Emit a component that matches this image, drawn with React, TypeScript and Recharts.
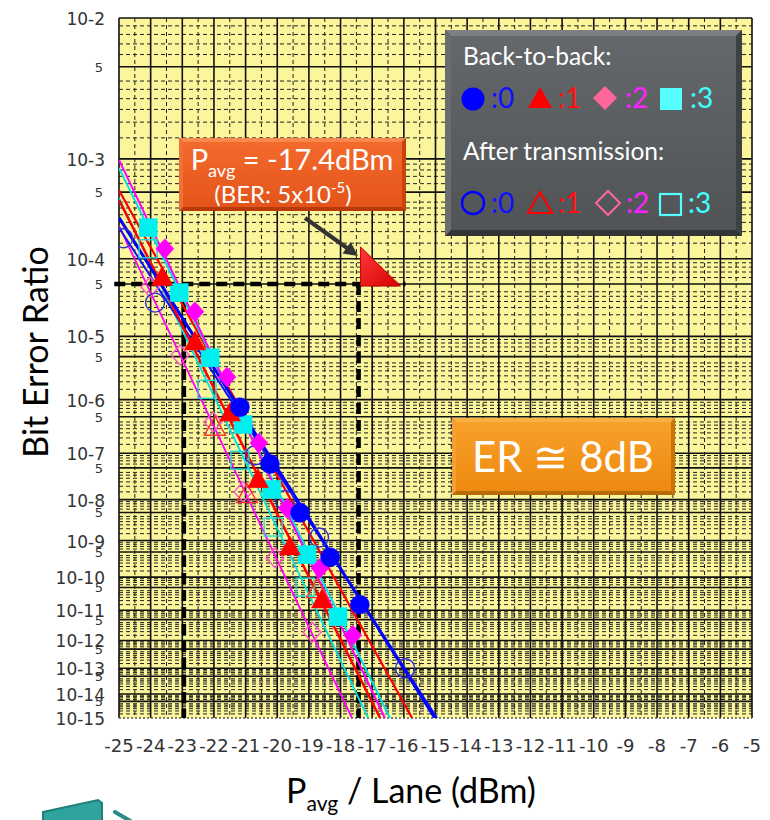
import React from 'react';
import { ScatterChart, Scatter, XAxis, YAxis, CartesianGrid, ReferenceLine, ReferenceDot } from 'recharts';

// ---------- transform (BER paper: log10(-log10 BER)) ----------
const berToY = (ber: number) => Math.log10(-Math.log10(ber));
const Y_TOP = berToY(1e-2);
const Y_BOTTOM = berToY(1e-15);

// ---------- measured points: Back-to-back ----------
const powerB2B0 = [-21.18, -20.23, -19.28, -18.33, -17.39];
const berB2B0 = [7.4e-7, 6.0e-8, 4.9e-9, 3.6e-10, 1.5e-11];
const powerB2B1 = [-23.64, -22.6, -21.49, -20.61, -19.6, -18.59];
const berB2B1 = [6.0e-5, 8.3e-6, 5.8e-7, 2.8e-8, 6.8e-10, 2.1e-11];
const powerB2B2 = [-23.55, -22.6, -21.59, -20.58, -19.69, -18.65, -17.61];
const berB2B2 = [1.3e-4, 2.2e-5, 2.4e-6, 1.6e-7, 6.3e-9, 1.8e-10, 1.5e-12];
const powerB2B3 = [-24.08, -23.1, -22.12, -21.08, -20.17, -19.06, -18.08];
const berB2B3 = [2.2e-4, 3.9e-5, 4.8e-6, 3.6e-7, 1.7e-8, 4.2e-10, 6.2e-12];

// ---------- measured points: After transmission ----------
const powerTx0 = [-24.87, -23.86, -20.7, -19.76, -18.68, -15.96];
const berTx0 = [1.7e-4, 2.9e-5, 9.1e-8, 9.8e-9, 1.2e-9, 1.0e-13];
const powerTx1 = [-21.97, -20.96, -18.74];
const berTx1 = [3.2e-7, 1.3e-8, 4.3e-11];
const powerTx2 = [-24.02, -23.07, -22.03, -21.08, -20.07, -18.9];
const berTx2 = [4.6e-5, 5.3e-6, 4.0e-7, 1.5e-8, 3.5e-10, 1.9e-12];
const powerTx3 = [-24.08, -22.22, -21.18, -20.13, -19.12];
const berTx3 = [1.3e-4, 1.5e-6, 7.2e-8, 2.2e-9, 5.1e-11];

// ---------- fitted lines (start / end) ----------
const fitPowerB2B0 = [-25, -15.02];
const fitBerB2B0 = [2.8e-4, 1e-15];
const fitPowerB2B1 = [-25, -16.75];
const fitBerB2B1 = [4.2e-4, 1e-15];
const fitPowerB2B2 = [-25, -16.6];
const fitBerB2B2 = [9.8e-4, 1e-15];
const fitPowerB2B3 = [-25, -16.44];
const fitBerB2B3 = [8.3e-4, 1e-15];
const fitPowerTx0 = [-25, -14.95];
const fitBerTx0 = [2.2e-4, 1e-15];
const fitPowerTx1 = [-25, -15.74];
const fitBerTx1 = [5.2e-4, 1e-15];
const fitPowerTx2 = [-25, -17.64];
const fitBerTx2 = [2.3e-4, 1e-15];
const fitPowerTx3 = [-25, -17.13];
const fitBerTx3 = [4.4e-4, 1e-15];

// ---------- annotation values ----------
const markPower = -17.43;
const markBer = 5e-5;
const refPowerB2B = -22.95;
const hLineStart = -25.15;
const hLineEnd = -15.95;

// ---------- axes ----------
const xTicks = [-25, -24, -23, -22, -21, -20, -19, -18, -17, -16, -15, -14, -13, -12, -11, -10, -9, -8, -7, -6, -5];
const decadeExponents = [2, 3, 4, 5, 6, 7, 8, 9, 10, 11, 12, 13, 14, 15];
const gridMantissas = [9, 8, 7, 6, 4, 3.5, 3, 2.5, 2, 1.5];

const yTickValues: number[] = [];
const yTickText: string[] = [];
decadeExponents.forEach((n) => {
  yTickValues.push(berToY(Number('1e-' + n)));
  yTickText.push('10-' + n);
  if (n < 15) {
    yTickValues.push(berToY(5 * Number('1e-' + (n + 1))));
    yTickText.push('5');
  }
});

const solidH: number[] = [];
const dashedH: number[] = [];
decadeExponents.forEach((n) => {
  if (n < 15) {
    solidH.push(berToY(Number('1e-' + n)));
    solidH.push(berToY(5 * Number('1e-' + (n + 1))));
    gridMantissas.forEach((m) => dashedH.push(berToY(m * Number('1e-' + (n + 1)))));
  }
});
const solidV = xTicks.slice();
const dashedV = xTicks.slice(0, -1).map((t) => t + 0.5);

const toPoints = (p: number[], b: number[]) => p.map((x, i) => ({ x, y: berToY(b[i]) }));

const hGen = (vals: number[]) => (props: any) => {
  const offset = props && props.offset;
  const yAxis = props && props.yAxis;
  try {
    if (yAxis && typeof yAxis.scale === 'function') {
      const r = vals.map((v) => yAxis.scale(v));
      if (r.every((c) => typeof c === 'number' && isFinite(c))) return r;
    }
  } catch (e) {}
  return vals.map((v) => offset.top + ((v - Y_TOP) / (Y_BOTTOM - Y_TOP)) * offset.height);
};
const vGen = (vals: number[]) => (props: any) => {
  const offset = props && props.offset;
  const xAxis = props && props.xAxis;
  try {
    if (xAxis && typeof xAxis.scale === 'function') {
      const r = vals.map((v) => xAxis.scale(v));
      if (r.every((c) => typeof c === 'number' && isFinite(c))) return r;
    }
  } catch (e) {}
  return vals.map((v) => offset.left + ((v + 25) / 20) * offset.width);
};

const markerShape = (kind: string, color: string, filled: boolean) => (props: any) => {
  const { cx, cy } = props;
  if (typeof cx !== 'number' || typeof cy !== 'number') return <g />;
  const fill = filled ? color : 'none';
  const sw = filled ? 0.5 : 1.4;
  if (kind === 'circle') return <circle cx={cx} cy={cy} r={9.5} fill={fill} stroke={color} strokeWidth={sw} />;
  if (kind === 'triangle')
    return <polygon points={`${cx},${cy - 11} ${cx + 10.5},${cy + 8} ${cx - 10.5},${cy + 8}`} fill={fill} stroke={color} strokeWidth={sw} />;
  if (kind === 'diamond')
    return <polygon points={`${cx},${cy - 10} ${cx + 9},${cy} ${cx},${cy + 10} ${cx - 9},${cy}`} fill={fill} stroke={color} strokeWidth={sw} />;
  return <rect x={cx - 9} y={cy - 9} width={18} height={18} fill={fill} stroke={color} strokeWidth={sw} />;
};
const noShape = () => <g />;

const YTick = (p: any) => {
  const v = p.payload && p.payload.value;
  const i = yTickValues.findIndex((t) => Math.abs(t - v) < 1e-9);
  const label = i >= 0 ? yTickText[i] : '';
  if (label === '5')
    return (
      <text x={p.x - 16} y={p.y} dy={5} textAnchor="end" fontSize={13} fill="#333" fontFamily="DejaVu Sans">
        5
      </text>
    );
  return (
    <text x={p.x - 14} y={p.y} dy={7} textAnchor="end" fontSize={17} fill="#333" fontFamily="DejaVu Sans">
      {label}
    </text>
  );
};
const XTick = (p: any) => (
  <text x={p.x} y={p.y + 34} textAnchor="middle" fontSize={18} fill="#333" fontFamily="DejaVu Sans">
    {p.payload.value}
  </text>
);

const TriangleMark = (p: any) => {
  const { cx, cy } = p;
  if (typeof cx !== 'number') return <g />;
  return (
    <g>
      <defs>
        <linearGradient id="redTri" x1="0" y1="0" x2="1" y2="1">
          <stop offset="0" stopColor="#ff3a3a" />
          <stop offset="1" stopColor="#d40000" />
        </linearGradient>
      </defs>
      <polygon points={`${cx + 2},${cy - 37} ${cx + 2},${cy + 2} ${cx + 42},${cy + 2}`} fill="url(#redTri)" stroke="#c00000" strokeWidth={1} />
    </g>
  );
};

const series = [
  { pw: powerTx3, ber: berTx3, fp: fitPowerTx3, fb: fitBerTx3, kind: 'square', color: '#22D8D8', lineColor: '#00E0E8', filled: false, lw: 1.8 },
  { pw: powerTx2, ber: berTx2, fp: fitPowerTx2, fb: fitBerTx2, kind: 'diamond', color: '#FF55CC', lineColor: '#FF00FF', filled: false, lw: 1.8 },
  { pw: powerTx1, ber: berTx1, fp: fitPowerTx1, fb: fitBerTx1, kind: 'triangle', color: '#FF3030', lineColor: '#FF0000', filled: false, lw: 2.2 },
  { pw: powerTx0, ber: berTx0, fp: fitPowerTx0, fb: fitBerTx0, kind: 'circle', color: '#3030D0', lineColor: '#1010FF', filled: false, lw: 2 },
  { pw: powerB2B3, ber: berB2B3, fp: fitPowerB2B3, fb: fitBerB2B3, kind: 'square', color: '#00F0F0', lineColor: '#00E0E8', filled: true, lw: 2 },
  { pw: powerB2B2, ber: berB2B2, fp: fitPowerB2B2, fb: fitBerB2B2, kind: 'diamond', color: '#FF00FF', lineColor: '#FF00FF', filled: true, lw: 2 },
  { pw: powerB2B1, ber: berB2B1, fp: fitPowerB2B1, fb: fitBerB2B1, kind: 'triangle', color: '#FF0000', lineColor: '#FF0000', filled: true, lw: 2.5 },
  { pw: powerB2B0, ber: berB2B0, fp: fitPowerB2B0, fb: fitBerB2B0, kind: 'circle', color: '#0000FF', lineColor: '#0000FF', filled: true, lw: 3 },
];

const Bevel = ({ x, y, w, h, b, light, left, right, dark, id, c1, c2 }: any) => (
  <g>
    <defs>
      <linearGradient id={id} x1="0" y1="0" x2="0" y2="1">
        <stop offset="0" stopColor={c1} />
        <stop offset="1" stopColor={c2} />
      </linearGradient>
    </defs>
    <rect x={x} y={y} width={w} height={h} fill={dark} />
    <polygon points={`${x},${y} ${x + w},${y} ${x + w - b},${y + b} ${x + b},${y + b}`} fill={light} />
    <polygon points={`${x},${y} ${x + b},${y + b} ${x + b},${y + h - b} ${x},${y + h}`} fill={left} />
    <polygon points={`${x + w},${y} ${x + w},${y + h} ${x + w - b},${y + h - b} ${x + w - b},${y + b}`} fill={right} />
    <rect x={x + b} y={y + b} width={w - 2 * b} height={h - 2 * b} fill={`url(#${id})`} />
  </g>
);

const Overlay = () => (
  <svg width={770} height={820} style={{ position: 'absolute', left: 0, top: 0, pointerEvents: 'none' }}>
    {/* axis titles */}
    <text transform="translate(48,352) rotate(-90)" textAnchor="middle" fontSize={34} fill="#000" fontFamily="Lato">
      Bit Error Ratio
    </text>
    <text x={411} y={803} textAnchor="middle" fontSize={34} fill="#000" fontFamily="Lato">
      P<tspan fontSize={21} dy={8}>avg</tspan>
      <tspan dy={-8}> / Lane (dBm)</tspan>
    </text>

    {/* arrow */}
    <line x1={305} y1={218} x2={347} y2={248} stroke="#333" strokeWidth={4} />
    <polygon points="358,256 342.5,253.5 350.7,242.1" fill="#333" />

    {/* P_avg callout */}
    <Bevel x={179} y={138} w={227} h={73} b={4} light="#f7884e" left="#f07038" right="#c8440e" dark="#b83a0a" id="gPavg" c1="#f36a2c" c2="#e4541a" />
    <text x={292} y={170} textAnchor="middle" fontSize={29} fill="#fff" fontFamily="Lato">
      P<tspan fontSize={18} dy={7}>avg</tspan>
      <tspan dy={-7}> = -17.4dBm</tspan>
    </text>
    <text x={283} y={203} textAnchor="middle" fontSize={24} fill="#fff" fontFamily="Lato">
      (BER: 5x10<tspan fontSize={15} dy={-10}>-5</tspan>
      <tspan dy={10}>)</tspan>
    </text>

    {/* ER callout */}
    <Bevel x={452} y={418} w={223} h={77} b={4} light="#fbb043" left="#f5a030" right="#c97408" dark="#b86a06" id="gEr" c1="#f7a02a" c2="#ee8a10" />
    <text x={563} y={472} textAnchor="middle" fontSize={42} fill="#fff" fontFamily="Lato">
      ER ≅ 8dB
    </text>

    {/* legend */}
    <Bevel x={445} y={30} w={297} h={206} b={6} light="#7d7f82" left="#6a6c6f" right="#3e4042" dark="#323436" id="gLeg" c1="#65686b" c2="#515457" />
    <text x={463} y={65} fontSize={24.5} fill="#fff" fontFamily="Lato">
      Back-to-back:
    </text>
    <circle cx={473} cy={99} r={11.5} fill="#0000FF" />
    <text x={491} y={108} fontSize={28} fill="#1010FF" fontFamily="Lato">:0</text>
    <polygon points="528,108 552,108 540,87" fill="#FF0000" />
    <text x={558} y={108} fontSize={28} fill="#FF1010" fontFamily="Lato">:1</text>
    <polygon points="605,86 617,98 605,110 593,98" fill="#FF6699" />
    <text x={625} y={108} fontSize={28} fill="#FF20FF" fontFamily="Lato">:2</text>
    <rect x={660} y={88} width={22} height={22} fill="#55FFFF" />
    <text x={690} y={108} fontSize={28} fill="#40FFFF" fontFamily="Lato">:3</text>

    <text x={463} y={160} fontSize={24.5} fill="#fff" fontFamily="Lato">
      After transmission:
    </text>
    <circle cx={473} cy={203} r={11} fill="none" stroke="#0000FF" strokeWidth={2.5} />
    <text x={491} y={213} fontSize={28} fill="#1010FF" fontFamily="Lato">:0</text>
    <polygon points="528,213 552,213 540,192" fill="none" stroke="#FF0000" strokeWidth={2.2} />
    <text x={558} y={213} fontSize={28} fill="#FF1010" fontFamily="Lato">:1</text>
    <polygon points="608,191 620,203 608,215 596,203" fill="none" stroke="#FF6699" strokeWidth={2} />
    <text x={626} y={213} fontSize={28} fill="#FF20FF" fontFamily="Lato">:2</text>
    <rect x={660} y={194} width={21} height={21} fill="none" stroke="#55FFFF" strokeWidth={2.2} />
    <text x={688} y={213} fontSize={28} fill="#40FFFF" fontFamily="Lato">:3</text>

    {/* cropped picture fragment bottom-left */}
    <polygon points="43,812 98,800 102,803 102,822 43,822" fill="#2FA39E" stroke="#1E7F7B" strokeWidth={2} />
    <line x1={115} y1={812} x2={132} y2={822} stroke="#2A8C88" strokeWidth={4} strokeLinecap="round" />
  </svg>
);

export default function App() {
  return (
    <div style={{ position: 'absolute', left: 0, top: 0, width: 770, height: 820, background: '#fff', overflow: 'hidden' }}>
      <ScatterChart width={770} height={820} margin={{ top: 18, right: 18, bottom: 72, left: 0 }}>
        <CartesianGrid
          horizontal
          vertical
          fill="#FBF59B"
          fillOpacity={1}
          stroke="#222"
          strokeWidth={1}
          strokeDasharray="4 3"
          horizontalCoordinatesGenerator={hGen(dashedH)}
          verticalCoordinatesGenerator={vGen(dashedV)}
        />
        <CartesianGrid
          horizontal
          vertical
          stroke="#111"
          strokeWidth={1.6}
          horizontalCoordinatesGenerator={hGen(solidH)}
          verticalCoordinatesGenerator={vGen(solidV)}
        />
        <XAxis
          type="number"
          dataKey="x"
          domain={[-25, -5]}
          ticks={xTicks}
          interval={0}
          allowDataOverflow
          axisLine={false}
          tickLine={false}
          tickSize={0}
          tickMargin={0}
          height={30}
          tick={<XTick />}
        />
        <YAxis
          type="number"
          dataKey="y"
          domain={[Y_TOP, Y_BOTTOM]}
          reversed
          ticks={yTickValues}
          interval={0}
          allowDataOverflow
          axisLine={false}
          tickLine={false}
          tickSize={0}
          tickMargin={0}
          width={119}
          tick={<YTick />}
        />
        <ReferenceLine y={Y_BOTTOM} stroke="#555" strokeWidth={1.5} strokeDasharray="2 2" />
        {series.map((s, i) => (
          <Scatter
            key={'fit' + i}
            data={toPoints(s.fp, s.fb)}
            line={{ stroke: s.lineColor, strokeWidth: s.lw }}
            shape={noShape}
            isAnimationActive={false}
          />
        ))}
        {series.map((s, i) => (
          <Scatter
            key={'pts' + i}
            data={toPoints(s.pw, s.ber)}
            fill={s.color}
            shape={markerShape(s.kind, s.color, s.filled)}
            isAnimationActive={false}
          />
        ))}
        <ReferenceLine
          segment={[
            { x: hLineStart, y: berToY(markBer) },
            { x: hLineEnd, y: berToY(markBer) },
          ]}
          ifOverflow="visible"
          stroke="#000"
          strokeWidth={4.5}
          strokeDasharray="11 6"
        />
        <ReferenceLine
          segment={[
            { x: refPowerB2B, y: berToY(markBer) },
            { x: refPowerB2B, y: Y_BOTTOM },
          ]}
          ifOverflow="visible"
          stroke="#000"
          strokeWidth={4.5}
          strokeDasharray="11 6"
        />
        <ReferenceLine
          segment={[
            { x: markPower, y: berToY(markBer) },
            { x: markPower, y: Y_BOTTOM },
          ]}
          ifOverflow="visible"
          stroke="#000"
          strokeWidth={4.5}
          strokeDasharray="11 6"
        />
        <ReferenceDot x={markPower} y={berToY(markBer)} r={1} ifOverflow="visible" shape={TriangleMark} />
      </ScatterChart>
      <Overlay />
    </div>
  );
}
